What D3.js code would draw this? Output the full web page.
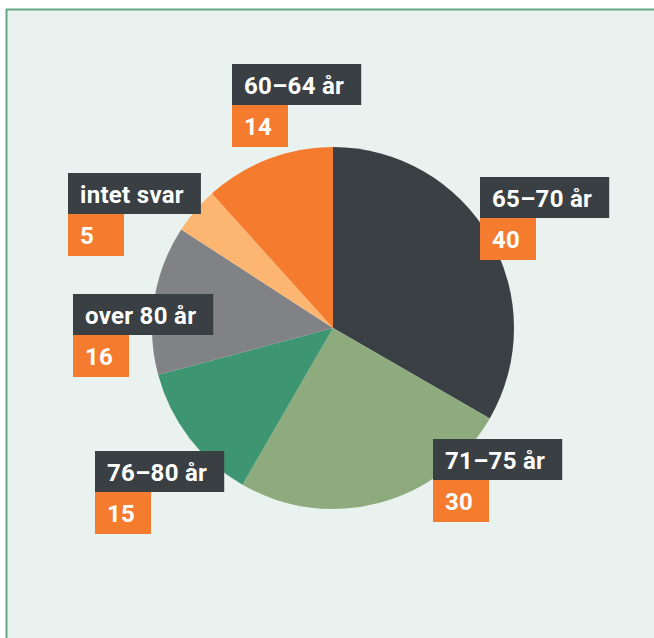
<!DOCTYPE html>
<html>
<head>
<meta charset="utf-8">
<script src="https://cdn.jsdelivr.net/npm/d3@7"></script>
<style>
	html, body { margin: 0; padding: 0; background: #fff; }
	svg { display: block; }
</style>
</head>
<body>
<div id="chart"></div>
<script>
// age groups, clockwise from 12 o'clock
const categories = ['65–70 år', '71–75 år', '76–80 år', 'over 80 år', 'intet svar', '60–64 år']
const values = [40, 30, 15, 16, 5, 14]
const colors = ['#3b4045', '#8eab7e', '#3d9571', '#818285', '#fdb672', '#f57b2f']
// top-left of each label box
const labelPos = [[480, 177], [433, 439], [95, 451], [73, 294], [68, 173], [232, 64]]

const width = 654, height = 638
const cx = 333, cy = 328, radius = 181

const svg = d3.select('#chart').append('svg')
	.attr('width', width)
	.attr('height', height)

svg.append('rect')
	.attr('x', 6.5)
	.attr('y', 9.5)
	.attr('width', width + 20)
	.attr('height', height + 20)
	.attr('fill', '#e9f2ef')
	.attr('stroke', '#66a586')
	.attr('stroke-width', 2)

const data = categories.map((c, i) => ({ name: c, value: values[i], color: colors[i], pos: labelPos[i] }))

const pie = d3.pie().sort(null).value(d => d.value)
const arc = d3.arc().innerRadius(0).outerRadius(radius)

const g = svg.append('g').attr('transform', `translate(${cx},${cy})`)
g.selectAll('path')
	.data(pie(data))
	.join('path')
	.attr('d', arc)
	.attr('fill', d => d.data.color)

const labels = svg.append('g').attr('class', 'labels')
	.style('font-family', 'Roboto, sans-serif')
	.style('font-weight', 700)
	.style('font-size', '24px')
	.style('letter-spacing', '0.3px')

data.forEach(d => {
	const [x, y] = d.pos
	const lg = labels.append('g').attr('transform', `translate(${x},${y})`)
	const box = lg.append('rect')
		.attr('height', 41)
		.attr('fill', '#3a3f44')
	const t = lg.append('text')
		.attr('x', 12)
		.attr('y', 29.5)
		.attr('fill', '#fff')
		.text(d.name)
	box.attr('width', t.node().getComputedTextLength() + 29)
	lg.append('rect')
		.attr('y', 41)
		.attr('width', 56)
		.attr('height', 42)
		.attr('fill', '#f57b2f')
	lg.append('text')
		.attr('x', 12)
		.attr('y', 70.5)
		.attr('fill', '#fff')
		.text(d.value)
})
</script>
</body>
</html>
